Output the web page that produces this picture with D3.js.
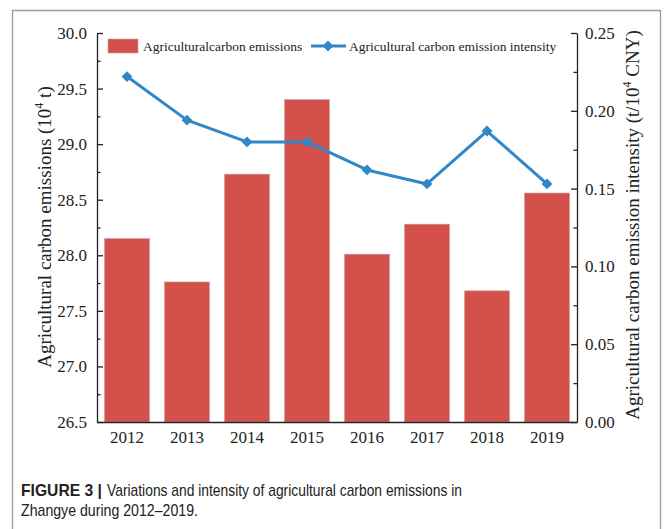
<!DOCTYPE html>
<html>
<head>
<meta charset="utf-8">
<script src="https://cdn.jsdelivr.net/npm/d3@7/dist/d3.min.js"></script>
<style>
  html, body { margin: 0; padding: 0; background: #fff; }
  svg { display: block; }
</style>
</head>
<body>
<svg id="chart" width="664" height="529"></svg>
<script>
// Agricultural carbon emissions in Zhangye, 2012–2019
const years = ["2012", "2013", "2014", "2015", "2016", "2017", "2018", "2019"];
const emissions = [28.15, 27.76, 28.73, 29.40, 28.01, 28.28, 27.68, 28.56];   // 10^4 t
const intensity = [0.222, 0.194, 0.180, 0.180, 0.162, 0.153, 0.187, 0.153];  // t / 10^4 CNY
const leftTicks = [26.5, 27.0, 27.5, 28.0, 28.5, 29.0, 29.5, 30.0];
const leftMinor = [26.75, 27.25, 27.75, 28.25, 28.75, 29.25, 29.75];
const rightTicks = [0.00, 0.05, 0.10, 0.15, 0.20, 0.25];
const rightMinor = [0.025, 0.075, 0.125, 0.175, 0.225];

const barColor = "#d4504a";
const lineColor = "#2f87c8";
const serif = "'Liberation Serif', 'Times New Roman', serif";
const sans = "'Liberation Sans', Arial, sans-serif";

const svg = d3.select("#chart");
const plot = { left: 97, right: 577, top: 33, bottom: 422 };

// outer frame (left, top, right)
svg.append("path")
  .attr("d", "M12.5,529 V10.5 H660.5 V529")
  .attr("fill", "none").attr("stroke", "#9a9a9a").attr("stroke-width", 1.3);

const x = d3.scaleBand().domain(years).range([plot.left, plot.right])
  .paddingInner(0.25).paddingOuter(0.125);
const yL = d3.scaleLinear().domain([26.5, 30.0]).range([plot.bottom, plot.top]);
const yR = d3.scaleLinear().domain([0, 0.25]).range([plot.bottom, plot.top]);

// bars
svg.append("g").selectAll("rect").data(years).join("rect")
  .attr("x", d => x(d))
  .attr("width", x.bandwidth())
  .attr("y", (d, i) => yL(emissions[i]))
  .attr("height", (d, i) => yL(26.5) - yL(emissions[i]))
  .attr("fill", barColor)
  .attr("stroke", "#c9a09c").attr("stroke-width", 0.6);

function styleAxis(g, size) {
  g.select(".domain").attr("stroke", "#222").attr("stroke-width", 1.3);
  g.selectAll(".tick line").attr("stroke", "#222").attr("stroke-width", 1.3);
  g.selectAll("text").attr("font-family", serif).attr("font-size", size).attr("fill", "#222");
}

// left axis
const gL = svg.append("g").attr("transform", `translate(${plot.left},0)`)
  .call(d3.axisLeft(yL).tickValues(leftTicks).tickFormat(d3.format(".1f"))
    .tickSizeInner(-6).tickSizeOuter(0).tickPadding(10));
styleAxis(gL, 17);
const gLm = svg.append("g").attr("transform", `translate(${plot.left},0)`)
  .call(d3.axisLeft(yL).tickValues(leftMinor).tickFormat("").tickSizeInner(-3.5).tickSizeOuter(0));
styleAxis(gLm, 17);
gLm.select(".domain").remove();

// right axis
const gR = svg.append("g").attr("transform", `translate(${plot.right},0)`)
  .call(d3.axisRight(yR).tickValues(rightTicks).tickFormat(d3.format(".2f"))
    .tickSizeInner(-6).tickSizeOuter(0).tickPadding(8));
styleAxis(gR, 17);
const gRm = svg.append("g").attr("transform", `translate(${plot.right},0)`)
  .call(d3.axisRight(yR).tickValues(rightMinor).tickFormat("").tickSizeInner(-3.5).tickSizeOuter(0));
styleAxis(gRm, 17);
gRm.select(".domain").remove();

// bottom axis
const gB = svg.append("g").attr("transform", `translate(0,${plot.bottom})`)
  .call(d3.axisBottom(x).tickSizeInner(0).tickSizeOuter(0).tickPadding(9));
styleAxis(gB, 17);

// intensity line
const line = d3.line().x((d, i) => x(years[i]) + x.bandwidth() / 2).y(d => yR(d));
svg.append("path").datum(intensity)
  .attr("d", line).attr("fill", "none")
  .attr("stroke", lineColor).attr("stroke-width", 3).attr("stroke-linejoin", "round");
const diamond = d3.symbol().type(d3.symbolDiamond2).size(75);
svg.append("g").selectAll("path").data(intensity).join("path")
  .attr("transform", (d, i) => `translate(${x(years[i]) + x.bandwidth() / 2},${yR(d)})`)
  .attr("d", diamond).attr("fill", lineColor);

// legend
const lg = svg.append("g");
lg.append("rect").attr("x", 108).attr("y", 39).attr("width", 30).attr("height", 14)
  .attr("fill", barColor).attr("stroke", "#c9a09c").attr("stroke-width", 0.6);
lg.append("text").attr("x", 143).attr("y", 50.5)
  .attr("font-family", serif).attr("font-size", 13.5).attr("fill", "#222")
  .text("Agriculturalcarbon emissions");
lg.append("line").attr("x1", 311).attr("x2", 346).attr("y1", 46).attr("y2", 46)
  .attr("stroke", lineColor).attr("stroke-width", 3);
lg.append("path").attr("transform", "translate(328,46)").attr("d", diamond).attr("fill", lineColor);
lg.append("text").attr("x", 349).attr("y", 50.5)
  .attr("font-family", serif).attr("font-size", 13.5).attr("fill", "#222")
  .text("Agricultural carbon emission intensity");

// axis titles
const tL = svg.append("text")
  .attr("transform", "translate(51,227) rotate(-90)")
  .attr("text-anchor", "middle")
  .attr("font-family", serif).attr("font-size", 19).attr("fill", "#222");
tL.append("tspan").text("Agricultural carbon emissions (10");
tL.append("tspan").attr("dy", -8).attr("font-size", 12).text("4");
tL.append("tspan").attr("dy", 8).text(" t)");

const tR = svg.append("text")
  .attr("transform", "translate(639,225) rotate(-90)")
  .attr("text-anchor", "middle")
  .attr("font-family", serif).attr("font-size", 19).attr("fill", "#222");
tR.append("tspan").text("Agricultural carbon emission intensity (t/10");
tR.append("tspan").attr("dy", -8).attr("font-size", 12).text("4");
tR.append("tspan").attr("dy", 8).text(" CNY)");

// figure caption
svg.append("text").attr("x", 21).attr("y", 496)
  .attr("font-family", sans).attr("font-size", 16.5).attr("font-weight", "bold").attr("fill", "#222")
  .attr("textLength", 81).attr("lengthAdjust", "spacingAndGlyphs")
  .text("FIGURE 3 |");
svg.append("text").attr("x", 107).attr("y", 496)
  .attr("font-family", sans).attr("font-size", 17).attr("fill", "#222")
  .attr("textLength", 355).attr("lengthAdjust", "spacingAndGlyphs")
  .text("Variations and intensity of agricultural carbon emissions in");
svg.append("text").attr("x", 21).attr("y", 516)
  .attr("font-family", sans).attr("font-size", 17).attr("fill", "#222")
  .attr("textLength", 177).attr("lengthAdjust", "spacingAndGlyphs")
  .text("Zhangye during 2012\u20132019.");
</script>
</body>
</html>
